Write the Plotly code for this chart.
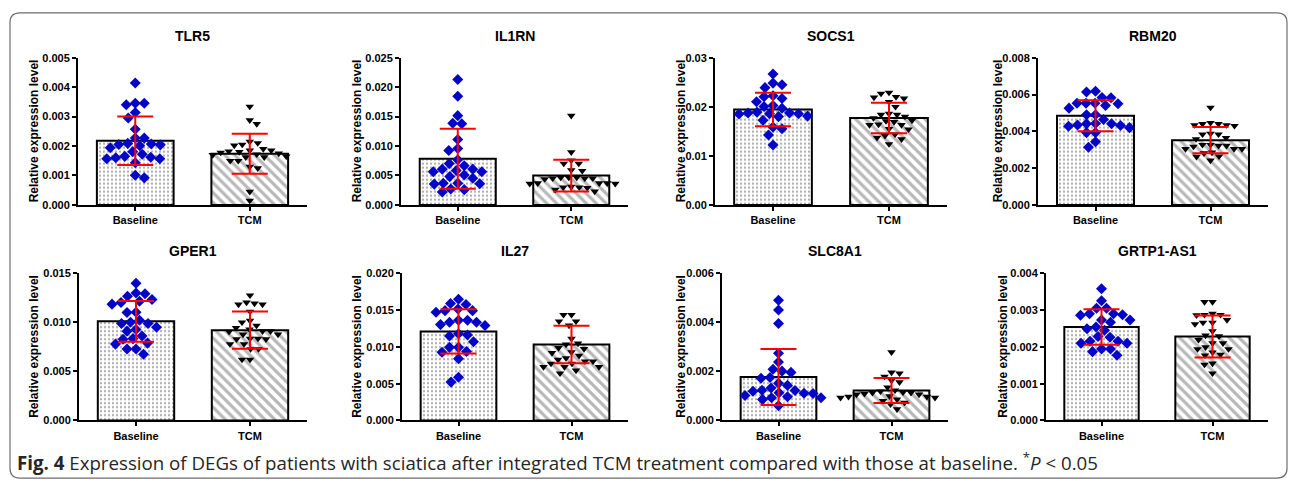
import plotly.graph_objects as go

# ---------------- data ----------------
genes = ["TLR5", "IL1RN", "SOCS1", "RBM20", "GPER1", "IL27", "SLC8A1", "GRTP1-AS1"]
categories = ["Baseline", "TCM"]
y_max = [0.005, 0.025, 0.03, 0.008, 0.015, 0.02, 0.006, 0.004]
y_step = [0.001, 0.005, 0.01, 0.002, 0.005, 0.005, 0.002, 0.001]
tick_decimals = [3, 3, 2, 3, 3, 3, 3, 3]

baseline_mean = [0.00218, 0.00785, 0.01945, 0.00485, 0.0101, 0.0121, 0.00177, 0.00254]
baseline_sd = [0.00082, 0.0051, 0.0034, 0.00084, 0.00207, 0.0030, 0.00114, 0.00048]
tcm_mean = [0.00174, 0.00498, 0.01772, 0.00352, 0.0092, 0.01033, 0.00122, 0.00228]
tcm_sd = [0.00068, 0.00268, 0.0031, 0.00071, 0.0019, 0.00255, 0.00051, 0.00057]

tlr5_baseline = [0.00414, 0.00345, 0.0034, 0.00345, 0.00314, 0.00295, 0.00257, 0.00227, 0.00227,
                 0.00209, 0.00205, 0.00201, 0.00194, 0.00204, 0.00207, 0.00181, 0.00165, 0.0016,
                 0.00157, 0.00157, 0.00162, 0.00172, 0.00143, 0.00092, 0.00101]
tlr5_tcm = [0.00334, 0.00288, 0.00275, 0.00215, 0.0021, 0.00202, 0.00205, 0.0019, 0.00185, 0.0018,
            0.00182, 0.00185, 0.00178, 0.00172, 0.00175, 0.0017, 0.00162, 0.00165, 0.00162, 0.0015,
            0.0015, 0.00125, 0.0013, 0.00045, 0.00015]
il1rn_baseline = [0.0213, 0.01847, 0.01516, 0.01377, 0.01388, 0.0111, 0.00924, 0.00957, 0.00769,
                  0.00664, 0.00702, 0.00586, 0.00564, 0.00608, 0.00608, 0.00509, 0.00564, 0.00481,
                  0.00454, 0.0037, 0.00354, 0.0036, 0.0037, 0.0026, 0.00271, 0.00221]
il1rn_tcm = [0.01516, 0.00896, 0.00702, 0.00702, 0.00758, 0.00592, 0.0058, 0.00465, 0.00453, 0.0044,
             0.00453, 0.00453, 0.00465, 0.00465, 0.0037, 0.0036, 0.0037, 0.0036, 0.0037, 0.003,
             0.0029, 0.003, 0.0031, 0.0023, 0.0026]
socs1_baseline = [0.02668, 0.02449, 0.02482, 0.0239, 0.02203, 0.0217, 0.02223, 0.02104, 0.02024,
                  0.01971, 0.02004, 0.01872, 0.01851, 0.01872, 0.01858, 0.01858, 0.01891, 0.018,
                  0.0181, 0.01726, 0.01553, 0.01586, 0.01427, 0.01221]
socs1_tcm = [0.0227, 0.0229, 0.022, 0.0217, 0.0219, 0.021, 0.02, 0.0186, 0.018, 0.0177, 0.0184,
             0.0184, 0.0171, 0.0172, 0.0169, 0.0163, 0.0164, 0.0163, 0.0154, 0.0155, 0.0144,
             0.0141, 0.0134, 0.0137, 0.0124]
rbm20_baseline = [0.00618, 0.00614, 0.00582, 0.00584, 0.00552, 0.00552, 0.0055, 0.00552, 0.0054,
                  0.00526, 0.0049, 0.0049, 0.00464, 0.00441, 0.00434, 0.00428, 0.00442, 0.00432,
                  0.00441, 0.0042, 0.00393, 0.00393, 0.00343, 0.00313]
rbm20_tcm = [0.00529, 0.0044, 0.00434, 0.00434, 0.0044, 0.00446, 0.0043, 0.00388, 0.00384, 0.00384,
             0.00358, 0.00365, 0.00327, 0.00322, 0.00327, 0.00322, 0.00317, 0.00304, 0.00304,
             0.00304, 0.00281, 0.00285, 0.00264, 0.00262, 0.00242]
gper1_baseline = [0.01397, 0.01298, 0.01291, 0.01265, 0.01232, 0.01215, 0.01202, 0.01185, 0.011,
                  0.01103, 0.0102, 0.00987, 0.01, 0.00987, 0.0095, 0.0091, 0.00927, 0.0086, 0.00834,
                  0.00828, 0.00788, 0.00778, 0.00728, 0.00728, 0.00675]
gper1_tcm = [0.01275, 0.01192, 0.01182, 0.01182, 0.01202, 0.0111, 0.01016, 0.01, 0.00967, 0.00927,
             0.0091, 0.00904, 0.0091, 0.00944, 0.00877, 0.00877, 0.00834, 0.00828, 0.00834,
             0.00828, 0.00778, 0.00778, 0.00728, 0.00728, 0.0062, 0.0062]
il27_baseline = [0.01647, 0.0159, 0.01576, 0.01514, 0.01492, 0.0147, 0.01492, 0.0136, 0.01333,
                 0.0136, 0.01333, 0.01289, 0.01302, 0.01179, 0.01148, 0.01161, 0.01068, 0.00993,
                 0.00993, 0.00927, 0.00936, 0.00839, 0.00587, 0.00521]
il27_tcm = [0.01435, 0.01435, 0.01347, 0.01347, 0.0129, 0.0111, 0.01046, 0.01033, 0.00985, 0.00971,
            0.00918, 0.0093, 0.0088, 0.00826, 0.00804, 0.00804, 0.00848, 0.00773, 0.00773,
            0.00728, 0.00728, 0.00728, 0.0068, 0.0064]
slc8a1_baseline = [0.0049, 0.0045, 0.00395, 0.00274, 0.00238, 0.00201, 0.00209, 0.00196, 0.00172,
                   0.00175, 0.00152, 0.00143, 0.00123, 0.00119, 0.0011, 0.00113, 0.00122, 0.00132,
                   0.00111, 0.00102, 0.00097, 0.00093, 0.00093, 0.00086, 0.0006]
slc8a1_tcm = [0.00278, 0.00196, 0.00192, 0.00179, 0.00163, 0.00156, 0.00135, 0.00123, 0.00115,
              0.00109, 0.00113, 0.00106, 0.00106, 0.00113, 0.00119, 0.00099, 0.00097, 0.00097,
              0.00093, 0.00093, 0.00086, 0.0008, 0.00073, 0.00066, 0.00046]
grtp1_baseline = [0.00358, 0.00325, 0.00305, 0.00305, 0.0029, 0.00286, 0.00287, 0.0029, 0.00273,
                  0.00273, 0.00267, 0.00254, 0.00245, 0.00249, 0.00228, 0.00226, 0.00215, 0.00215,
                  0.0021, 0.0021, 0.00194, 0.00194, 0.00187, 0.00177]
grtp1_tcm = [0.00322, 0.00322, 0.00287, 0.00286, 0.00287, 0.0029, 0.00273, 0.00262, 0.00266,
             0.00266, 0.00243, 0.00231, 0.00229, 0.00219, 0.0021, 0.0021, 0.00199, 0.00194,
             0.00194, 0.00185, 0.00179, 0.00177, 0.00155, 0.00152, 0.00128]

baseline_points = [tlr5_baseline, il1rn_baseline, socs1_baseline, rbm20_baseline,
                   gper1_baseline, il27_baseline, slc8a1_baseline, grtp1_baseline]
tcm_points = [tlr5_tcm, il1rn_tcm, socs1_tcm, rbm20_tcm,
              gper1_tcm, il27_tcm, slc8a1_tcm, grtp1_tcm]

caption = ("<b>Fig. 4</b> Expression of DEGs of patients with sciatica after integrated TCM "
           "treatment compared with those at baseline. <sup>*</sup><i>P</i> &lt; 0.05")
y_title = "Relative expression level"

# ---------------- layout geometry ----------------
W, H = 1290, 485
x_left_px = [78, 401, 715, 1038, 79, 402, 722, 1046]
x_right_px = [307, 628, 947, 1268, 307, 628, 948, 1268]
row_top_px = [53, 274]
row_bottom_px = [204, 425]
ytitle_x_px = [34, 357, 681, 998, 34, 357, 681, 1003]
title_y_px = [31, 251]

FONT = dict(family="Arial, Liberation Sans, sans-serif", color="black")


def swarm(vals, y_px_per_unit, d):
    order = sorted(range(len(vals)), key=lambda i: -vals[i])
    placed = []
    offs = [0.0] * len(vals)
    for n, i in enumerate(order):
        y = vals[i] * y_px_per_unit
        k = 0
        best = None
        sgn = 1 if n % 2 == 0 else -1
        while best is None:
            cands = [0.0] if k == 0 else [sgn * k * 0.5, -sgn * k * 0.5]
            for c in cands:
                if all((c - px) ** 2 + (y - py) ** 2 >= d * d for px, py in placed):
                    best = c
                    break
            k += 1
        placed.append((best, y))
        offs[i] = best
    return offs


fig = go.Figure()
annotations = []

for i, g in enumerate(genes):
    row = i // 4
    ax = "" if i == 0 else str(i + 1)
    xref, yref = "x" + ax, "y" + ax
    xdom = [x_left_px[i] / W, x_right_px[i] / W]
    ydom = [1 - row_bottom_px[row] / H, 1 - row_top_px[row] / H]
    plot_h = row_bottom_px[row] - row_top_px[row]
    plot_w = x_right_px[i] - x_left_px[i]
    ypu = plot_h / y_max[i]
    xpu = plot_w / 2.0

    # bars (means)
    fig.add_trace(go.Bar(
        x=[0], y=[baseline_mean[i]], width=0.67, xaxis=xref, yaxis=yref,
        marker=dict(color="white", line=dict(color="black", width=2),
                    pattern=dict(shape=".", size=4, solidity=0.25, fgcolor="#5a5a5a", bgcolor="white")),
        showlegend=False, hoverinfo="skip"))
    fig.add_trace(go.Bar(
        x=[1], y=[tcm_mean[i]], width=0.67, xaxis=xref, yaxis=yref,
        marker=dict(color="white", line=dict(color="black", width=2),
                    pattern=dict(shape="\\", size=7, solidity=0.45, fgcolor="#707070", bgcolor="white")),
        showlegend=False, hoverinfo="skip"))

    # individual points
    bo = swarm(baseline_points[i], ypu, 9.0)
    to = swarm(tcm_points[i], ypu, 8.0)
    fig.add_trace(go.Scatter(
        x=[0 + o / xpu for o in bo], y=baseline_points[i], mode="markers", xaxis=xref, yaxis=yref,
        marker=dict(symbol="diamond", size=8.5, color="#0505c8"), showlegend=False, cliponaxis=False))
    fig.add_trace(go.Scatter(
        x=[1 + o / xpu for o in to], y=tcm_points[i], mode="markers", xaxis=xref, yaxis=yref,
        marker=dict(symbol="triangle-down", size=7.5, color="black"), showlegend=False, cliponaxis=False))

    # error bars (mean ± SD)
    fig.add_trace(go.Scatter(
        x=[0, 1], y=[baseline_mean[i], tcm_mean[i]], mode="markers", xaxis=xref, yaxis=yref,
        marker=dict(size=1, color="rgba(0,0,0,0)"),
        error_y=dict(type="data", array=[baseline_sd[i], tcm_sd[i]], color="#ff0000",
                     thickness=2, width=18),
        showlegend=False, hoverinfo="skip", cliponaxis=False))

    nt = int(round(y_max[i] / y_step[i]))
    yvals = [k * y_step[i] for k in range(nt + 1)]
    ytext = [f"<b>{v:.{tick_decimals[i]}f}</b>" for v in yvals]

    fig.layout["xaxis" + ax] = dict(
        domain=xdom, anchor=yref, range=[-0.5, 1.5], tickvals=[0, 1],
        ticktext=[f"<b>{c}</b>" for c in categories],
        showline=True, linecolor="black", linewidth=2, ticks="outside", ticklen=4, tickwidth=2,
        tickcolor="black", showgrid=False, zeroline=False, tickfont=dict(size=11, **FONT),
        fixedrange=True)
    fig.layout["yaxis" + ax] = dict(
        domain=ydom, anchor=xref, range=[0, y_max[i]], tickvals=yvals, ticktext=ytext,
        showline=True, linecolor="black", linewidth=2,
        ticks="outside", ticklen=4, tickwidth=2, tickcolor="black", showgrid=False,
        zeroline=False, tickfont=dict(size=11, **FONT), fixedrange=True)

    annotations.append(dict(
        text=f"<b>{g}</b>", xref="paper", yref="paper", x=(x_left_px[i] + x_right_px[i]) / 2 / W,
        y=1 - title_y_px[row] / H, xanchor="center", yanchor="middle", showarrow=False,
        font=dict(size=14, **FONT)))
    annotations.append(dict(
        text=f"<b>{y_title}</b>", xref="paper", yref="paper", x=ytitle_x_px[i] / W,
        y=1 - (row_top_px[row] + row_bottom_px[row]) / 2 / H, xanchor="center", yanchor="middle",
        textangle=-90, showarrow=False, font=dict(size=12, **FONT)))

annotations.append(dict(
    text=caption, xref="paper", yref="paper", x=15 / W, y=1 - 467 / H, xanchor="left",
    yanchor="middle", showarrow=False,
    font=dict(family="Open Sans, Noto Sans, sans-serif", size=18.7, color="#262626")))


def P(px, py):
    return f"{px / W:.5f},{1 - py / H:.5f}"


L, R, T, B, r = 10, 1287, 7, 484, 10
border = (f"M {P(L + r, T)} L {P(R - r, T)} Q {P(R, T)} {P(R, T + r)} L {P(R, B - r)} "
          f"Q {P(R, B)} {P(R - r, B)} L {P(L + r, B)} Q {P(L, B)} {P(L, B - r)} "
          f"L {P(L, T + r)} Q {P(L, T)} {P(L + r, T)} Z")

fig.update_layout(
    width=W, height=H, margin=dict(l=0, r=0, t=0, b=0, pad=0),
    paper_bgcolor="white", plot_bgcolor="white", barmode="overlay",
    annotations=annotations,
    shapes=[dict(type="path", path=border, xref="paper", yref="paper",
                 line=dict(color="#6e6e6e", width=1.2), fillcolor="rgba(0,0,0,0)", layer="below")],
    font=dict(family="Arial, Liberation Sans, sans-serif"),
)

fig.write_html("out.html", include_plotlyjs=True, config={"displayModeBar": False, "responsive": False},
               post_script="document.body.style.margin='0';document.body.style.overflow='hidden';")
